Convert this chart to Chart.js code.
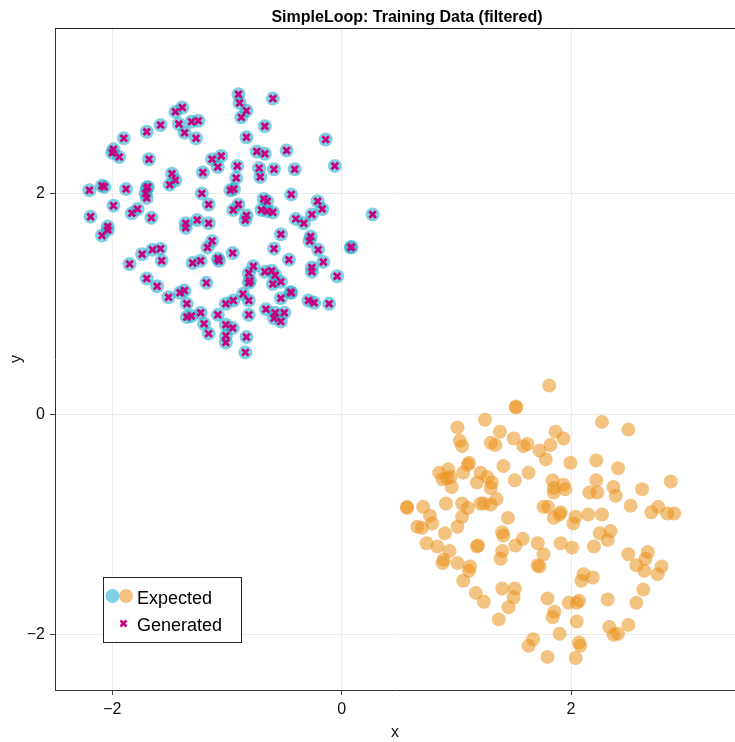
<!DOCTYPE html>
<html lang="en">
<head>
  <meta charset="UTF-8" />
  <title>SimpleLoop: Training Data (filtered)</title>
  <script src="https://cdn.jsdelivr.net/npm/chart.js"></script>
  <style>
    body { margin: 0; background: #fff; }
    canvas { display: block; }
  </style>
</head>
<body>
  <canvas id="chart" width="735" height="742"></canvas>

  <script>
    // expected points, class A (blue cluster)
    const expectedA = [
      [-0.90, 2.90], [-0.89, 2.82], [-0.83, 2.75], [-0.875, 2.69], [-0.60, 2.86], [-0.67, 2.61],
      [-0.83, 2.51], [-0.14, 2.49], [-0.74, 2.38], [-0.67, 2.36], [-0.48, 2.39], [-0.91, 2.25],
      [-0.92, 2.14], [-0.72, 2.23], [-0.71, 2.15], [-0.59, 2.22], [-0.41, 2.22], [-0.06, 2.25],
      [-0.97, 2.03], [-0.94, 2.04], [-0.44, 1.99], [-0.68, 1.95], [-0.65, 1.93], [-0.90, 1.90],
      [-0.945, 1.85], [-0.70, 1.85], [-0.65, 1.84], [-0.60, 1.83], [-0.83, 1.80], [-0.84, 1.76],
      [-0.21, 1.93], [-0.17, 1.86], [-0.26, 1.81], [-0.40, 1.77], [-0.33, 1.73], [0.27, 1.81],
      [-1.45, 2.74], [-1.39, 2.78], [-1.58, 2.62], [-1.70, 2.56], [-1.90, 2.50], [-1.42, 2.63],
      [-1.37, 2.55], [-1.31, 2.65], [-1.25, 2.66], [-1.27, 2.50], [-1.99, 2.40], [-2.00, 2.37],
      [-1.94, 2.33], [-1.68, 2.31], [-1.13, 2.31], [-1.05, 2.34], [-1.08, 2.24], [-1.21, 2.19],
      [-1.48, 2.18], [-1.45, 2.12], [-1.50, 2.08], [-2.20, 2.03], [-2.09, 2.07], [-2.07, 2.06],
      [-1.88, 2.04], [-1.70, 2.05], [-1.69, 2.06], [-1.71, 2.00], [-1.70, 1.96], [-1.22, 2.00],
      [-1.16, 1.90], [-1.99, 1.89], [-1.83, 1.82], [-1.78, 1.86], [-1.66, 1.78], [-2.19, 1.79],
      [-1.36, 1.73], [-1.26, 1.76], [-1.16, 1.73], [-2.04, 1.70], [-2.09, 1.62], [-2.04, 1.67],
      [-1.36, 1.69], [-1.74, 1.45], [-1.65, 1.49], [-1.58, 1.50], [-1.57, 1.39], [-1.85, 1.36],
      [-1.17, 1.51], [-1.13, 1.57], [-1.30, 1.37], [-1.23, 1.39], [-1.08, 1.41], [-1.07, 1.39],
      [-0.95, 1.46], [-1.18, 1.19], [-1.70, 1.23], [-1.61, 1.16], [-1.51, 1.06], [-1.41, 1.10],
      [-1.37, 1.12], [-1.35, 1.00], [-1.35, 0.88], [-1.31, 0.89], [-1.23, 0.92], [-1.01, 1.00],
      [-0.945, 1.03], [-1.08, 0.90], [-1.20, 0.82], [-1.16, 0.73], [-1.01, 0.81], [-0.95, 0.78],
      [-1.01, 0.71], [-1.01, 0.65], [-0.53, 1.63], [-0.27, 1.61], [-0.28, 1.57], [-0.59, 1.50],
      [-0.205, 1.49], [0.08, 1.51], [0.085, 1.515], [-0.46, 1.40], [-0.16, 1.38], [-0.26, 1.33],
      [-0.26, 1.29], [-0.04, 1.25], [-0.77, 1.34], [-0.81, 1.28], [-0.80, 1.21], [-0.81, 1.19],
      [-0.67, 1.29], [-0.61, 1.30], [-0.58, 1.26], [-0.53, 1.20], [-0.60, 1.18], [-0.44, 1.10],
      [-0.445, 1.105], [-0.53, 1.05], [-0.86, 1.09], [-0.81, 1.03], [-0.29, 1.03], [-0.24, 1.01],
      [-0.11, 1.00], [-0.66, 0.95], [-0.58, 0.92], [-0.50, 0.92], [-0.59, 0.87], [-0.53, 0.84],
      [-0.81, 0.90], [-0.83, 0.70], [-0.84, 0.56]
    ];

    // expected points, class B (orange cluster)
    const expectedB = [
      [1.52, 0.07], [1.52, 0.06], [1.25, -0.05], [1.01, -0.12], [1.03, -0.24], [1.05, -0.29],
      [1.38, -0.16], [1.30, -0.26], [1.34, -0.28], [1.50, -0.22], [1.585, -0.29], [1.62, -0.27],
      [1.725, -0.33], [1.11, -0.44], [1.10, -0.46], [1.41, -0.47], [1.63, -0.53], [1.51, -0.60],
      [1.78, -0.41], [0.85, -0.53], [0.93, -0.50], [0.88, -0.59], [0.92, -0.58], [0.95, -0.57],
      [0.96, -0.66], [1.06, -0.53], [1.21, -0.53], [1.18, -0.62], [1.27, -0.57], [1.31, -0.62],
      [1.30, -0.67], [1.35, -0.77], [1.21, -0.81], [1.24, -0.81], [1.30, -0.82], [0.57, -0.84],
      [0.57, -0.85], [0.71, -0.84], [0.91, -0.81], [1.05, -0.81], [1.10, -0.85], [0.77, -0.92],
      [0.79, -0.99], [1.05, -0.93], [1.45, -0.94], [1.81, 0.26], [2.27, -0.07], [2.50, -0.14],
      [1.865, -0.16], [1.935, -0.22], [1.82, -0.28], [1.995, -0.44], [2.22, -0.42], [2.41, -0.49],
      [1.84, -0.60], [1.85, -0.67], [1.85, -0.71], [1.935, -0.64], [1.95, -0.68], [2.22, -0.60],
      [2.16, -0.71], [2.23, -0.71], [2.37, -0.66], [2.39, -0.74], [2.62, -0.68], [2.87, -0.61],
      [2.52, -0.83], [1.76, -0.84], [1.80, -0.84], [1.91, -0.89], [1.90, -0.91], [2.04, -0.93],
      [2.15, -0.91], [2.27, -0.91], [2.70, -0.89], [2.76, -0.84], [2.84, -0.90], [2.90, -0.90],
      [0.66, -1.02], [0.70, -1.03], [0.90, -1.08], [1.01, -1.02], [0.74, -1.17], [0.835, -1.20],
      [0.94, -1.24], [0.89, -1.32], [0.88, -1.35], [1.01, -1.35], [1.12, -1.38], [1.11, -1.42],
      [1.06, -1.51], [1.17, -1.62], [1.24, -1.70], [1.19, -1.19], [1.18, -1.20], [1.40, -1.07],
      [1.41, -1.10], [1.58, -1.13], [1.515, -1.19], [1.40, -1.24], [1.385, -1.31], [1.71, -1.17],
      [1.71, -1.37], [1.725, -1.38], [1.40, -1.58], [1.51, -1.58], [1.50, -1.66], [1.455, -1.75],
      [1.37, -1.86], [1.67, -2.04], [1.63, -2.10], [1.85, -0.94], [2.02, -0.99], [2.25, -1.08],
      [2.345, -1.06], [2.32, -1.14], [1.76, -1.27], [1.91, -1.17], [2.01, -1.21], [2.20, -1.20],
      [2.50, -1.27], [2.67, -1.25], [2.65, -1.31], [2.57, -1.37], [2.64, -1.42], [2.755, -1.45],
      [2.79, -1.38], [2.11, -1.45], [2.09, -1.51], [2.19, -1.48], [2.63, -1.59], [2.57, -1.71],
      [1.795, -1.67], [1.98, -1.71], [2.05, -1.71], [2.07, -1.69], [2.32, -1.68], [1.855, -1.79],
      [1.84, -1.84], [2.05, -1.88], [2.335, -1.93], [2.37, -2.00], [2.41, -1.99], [2.50, -1.91],
      [1.90, -1.99], [2.07, -2.07], [2.08, -2.10], [1.795, -2.20], [2.04, -2.21]
    ];

    // generated points only exist for the filtered class (on top of class A)
    const generated = expectedA;

    const xTicks = [-2, 0, 2];
    const yTicks = [-2, 0, 2];
    const xRange = [-2.5, 3.43];
    const yRange = [-2.5, 3.5];

    const blue = 'rgba(30, 172, 202, 0.56)';
    const orange = 'rgba(234, 145, 25, 0.55)';
    const magenta = '#c8007e';
    const font = "'Liberation Sans', Arial, sans-serif";

    const toPts = arr => arr.map(p => ({ x: p[0], y: p[1] }));
    const minus = v => String(v).replace('-', '\u2212');

    // title, top spine and the legend box
    const decorations = {
      id: 'decorations',
      afterDraw(chart) {
        const ctx = chart.ctx;
        const ca = chart.chartArea;
        ctx.save();

        ctx.fillStyle = '#000';
        ctx.font = 'bold 16px ' + font;
        ctx.textAlign = 'center';
        ctx.textBaseline = 'alphabetic';
        ctx.fillText('SimpleLoop: Training Data (filtered)', ca.left + 352, 22);

        ctx.strokeStyle = '#222';
        ctx.lineWidth = 1;
        ctx.beginPath();
        ctx.moveTo(ca.left, ca.top + 0.5);
        ctx.lineTo(ca.right, ca.top + 0.5);
        ctx.stroke();

        // legend
        const x0 = ca.left + 48, y0 = ca.bottom - 113;
        ctx.fillStyle = '#fff';
        ctx.fillRect(x0, y0, 138, 65);
        ctx.strokeStyle = '#222';
        ctx.strokeRect(x0 + 0.5, y0 + 0.5, 138, 65);

        ctx.fillStyle = blue;
        ctx.beginPath(); ctx.arc(x0 + 9.5, y0 + 19, 7, 0, Math.PI * 2); ctx.fill();
        ctx.fillStyle = orange;
        ctx.beginPath(); ctx.arc(x0 + 23, y0 + 19, 7, 0, Math.PI * 2); ctx.fill();

        ctx.strokeStyle = magenta;
        ctx.lineWidth = 2.6;
        const cx = x0 + 20.5, cy = y0 + 46.5, r = 3;
        ctx.beginPath();
        ctx.moveTo(cx - r, cy - r); ctx.lineTo(cx + r, cy + r);
        ctx.moveTo(cx - r, cy + r); ctx.lineTo(cx + r, cy - r);
        ctx.stroke();

        ctx.fillStyle = '#000';
        ctx.font = '18px ' + font;
        ctx.textAlign = 'left';
        ctx.fillText('Expected', x0 + 34, y0 + 26.5);
        ctx.fillText('Generated', x0 + 34, y0 + 54);
        ctx.restore();
      }
    };

    const axisBase = {
      type: 'linear',
      grid: { color: '#ebebeb', lineWidth: 1, tickColor: '#444', tickLength: 5, tickWidth: 1 },
      border: { display: true, color: '#333', width: 1 },
      ticks: { color: '#111', font: { family: font, size: 16 }, padding: 5, callback: v => minus(v) }
    };

    new Chart(document.getElementById('chart'), {
      type: 'scatter',
      data: {
        datasets: [
          {
            label: 'Generated',
            data: toPts(generated),
            pointStyle: 'crossRot',
            pointRadius: 4.6,
            pointBorderWidth: 2.8,
            borderColor: magenta,
            backgroundColor: magenta,
            order: 0
          },
          {
            label: 'Expected',
            data: toPts(expectedA),
            pointRadius: 7,
            pointBorderWidth: 0,
            backgroundColor: blue,
            borderColor: 'rgba(0,0,0,0)',
            order: 1
          },
          {
            label: 'Expected',
            data: toPts(expectedB),
            pointRadius: 7,
            pointBorderWidth: 0,
            backgroundColor: orange,
            borderColor: 'rgba(0,0,0,0)',
            order: 2
          }
        ]
      },
      options: {
        responsive: false,
        animation: false,
        layout: { autoPadding: false, padding: { top: 28, left: 0, right: 0, bottom: 0 } },
        plugins: { legend: { display: false }, tooltip: { enabled: false } },
        scales: {
          x: {
            ...axisBase,
            min: xRange[0],
            max: xRange[1],
            ticks: { ...axisBase.ticks, padding: 5 },
            afterBuildTicks: s => { s.ticks = xTicks.map(v => ({ value: v })); },
            afterFit: s => { s.height = 52; },
            title: { display: true, text: 'x', color: '#111', font: { family: font, size: 16 }, padding: { top: 0, bottom: 0 } }
          },
          y: {
            ...axisBase,
            min: yRange[0],
            max: yRange[1],
            afterBuildTicks: s => { s.ticks = yTicks.map(v => ({ value: v })); },
            afterFit: s => { s.width = 55; },
            title: { display: true, text: 'y', color: '#111', font: { family: font, size: 16 }, padding: { top: 7, bottom: 0 } }
          }
        }
      },
      plugins: [decorations]
    });
  </script>
</body>
</html>
